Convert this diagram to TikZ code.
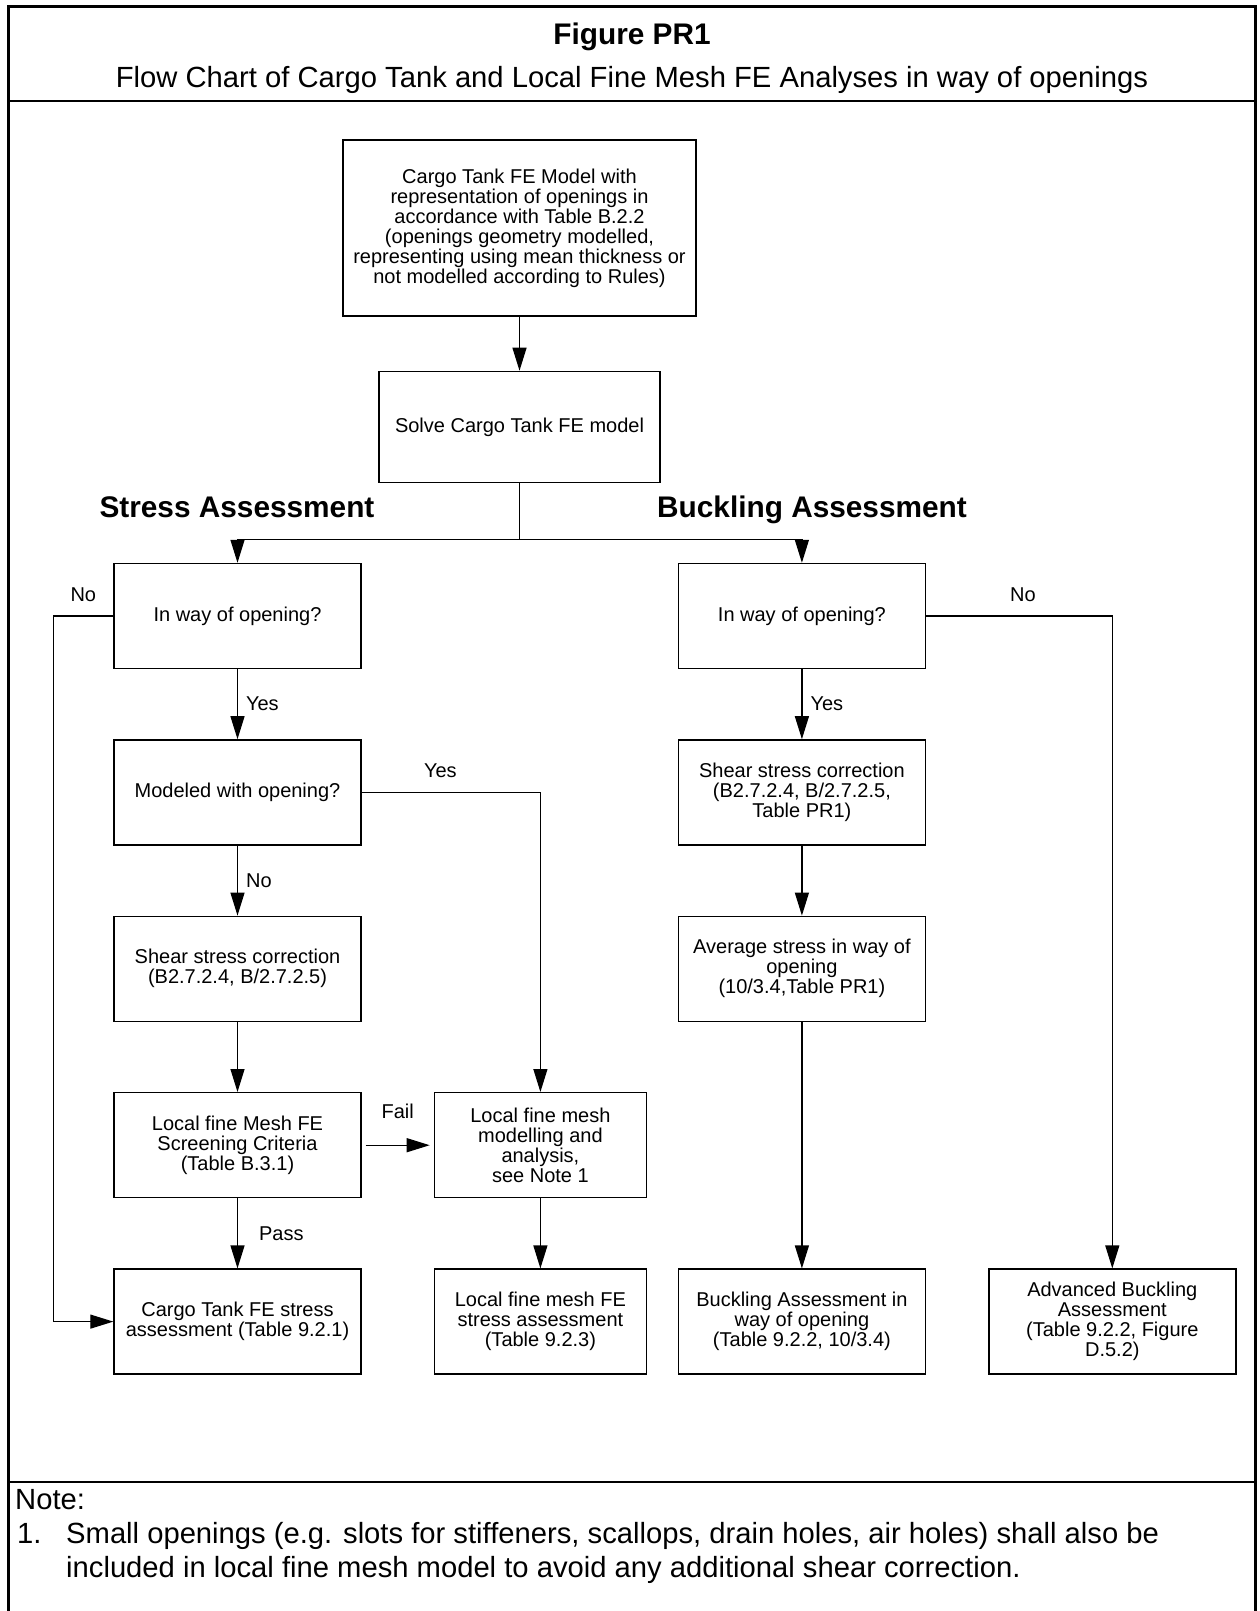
\documentclass[tikz,border=0pt]{standalone}
\usepackage{fontspec}
\setmainfont{Liberation Sans}[Ligatures=NoCommon]
\usetikzlibrary{arrows.meta}
\usetikzlibrary{positioning}

\begin{document}
\begin{tikzpicture}[x=1pt,y=-1pt,node distance=70pt,
          >={Triangle[length=23pt,width=14pt]},
          box/.style={draw,line width=1.4pt,align=center,inner sep=3pt,
            minimum width=247pt,minimum height=105pt,font=\fontsize{20}{20}\selectfont},
          lbl/.style={inner sep=2pt,font=\fontsize{20}{20}\selectfont},
          head/.style={font=\fontsize{29.8}{34}\selectfont\bfseries},
          big/.style={font=\fontsize{29.2}{34}\selectfont},
          link/.style={line width=1.2pt}]
          \useasboundingbox (0,0) rectangle (1259,1611);
          \fill[white] (0,0) rectangle (1259,1611);
          % frame
          \draw[line width=3pt] (8,1611) |- (1255,7) -- (1255,1611);
          \draw[line width=1.5pt] (8,101) -- (1255,101);
          \draw[line width=1.5pt] (8,1482) -- (1255,1482);
          \node[head] (fig) at (632,37) {Figure PR1};
          \node[big] (sub) at (632,80) {Flow Chart of Cargo Tank and Local Fine Mesh FE Analyses in way of openings};
          % top of chart
          \node[box,minimum width=353pt,minimum height=176pt] (ctmodel) at (519.5,228)
            {Cargo Tank FE Model with\\representation of openings in\\accordance with Table B.2.2\\(openings geometry modelled,\\representing using mean thickness or\\not modelled according to Rules)};
          \node[box,minimum width=281pt,minimum height=111pt,below=54pt of ctmodel] (solve) {Solve Cargo Tank FE model};
          \coordinate[below=56pt of solve] (split);
          \node[head,anchor=base] (hstress) at (237,517) {Stress Assessment};
          \node[head,anchor=base] (hbuck) at (812,517) {Buckling Assessment};
          % stress side
          \node[box] (wayS) at (237.5,616) {In way of opening?};
          \node[box,below=of wayS] (modS) {Modeled with opening?};
          \node[box,below=of modS] (shearS) {Shear stress correction\\(B2.7.2.4, B/2.7.2.5)};
          \node[box,below=of shearS] (screenS) {Local fine Mesh FE\\Screening Criteria\\(Table B.3.1)};
          \node[box,below=of screenS] (ctstress) {Cargo Tank FE stress\\assessment (Table 9.2.1)};
          \node[box,minimum width=212pt,right=72pt of screenS] (lfmodel) {Local fine mesh\\modelling and\\analysis,\\see Note 1};
          \node[box,minimum width=212pt,below=of lfmodel] (lfstress) {Local fine mesh FE\\stress assessment\\(Table 9.2.3)};
          % buckling side
          \node[box,right=316pt of wayS] (wayB) {In way of opening?};
          \node[box,below=of wayB] (shearB) {Shear stress correction\\(B2.7.2.4, B/2.7.2.5,\\Table PR1)};
          \node[box,below=of shearB] (avgB) {Average stress in way of\\opening\\(10/3.4,Table PR1)};
          \node[box,right=316pt of ctstress] (buckB) {Buckling Assessment in\\way of opening\\(Table 9.2.2, 10/3.4)};
          \node[box,right=62pt of buckB] (advB) {Advanced Buckling\\Assessment\\(Table 9.2.2, Figure\\D.5.2)};
          % connectors
          \draw[link,->] (ctmodel) -- (solve);
          \draw[link] (solve) -- (split);
          \draw[link,->] (split) -| (wayS.north);
          \draw[link,->] (split) -| (wayB.north);
          \draw[link,->] (wayS.west) -- ++(-60,0) node[lbl,midway,above=12pt] (noS) {No} |- (ctstress.west);
          \draw[link,->] (wayS) -- node[lbl,right=6pt] (yesS) {Yes} (modS);
          \draw[link,->] (modS.east) -| node[lbl,pos=0.22,above=12pt] (yesM) {Yes} (lfmodel.north);
          \draw[link,->] (modS) -- node[lbl,right=6pt] (noM) {No} (shearS);
          \draw[link,->] (shearS) -- (screenS);
          \draw[link,->,shorten <=4pt,shorten >=4pt] (screenS) -- node[lbl,above=24pt] (fail) {Fail} (lfmodel);
          \draw[link,->] (screenS) -- node[lbl,right=19pt] (pass) {Pass} (ctstress);
          \draw[link,->] (lfmodel) -- (lfstress);
          \draw[link,->] (wayB) -- node[lbl,right=6pt] (yesB) {Yes} (shearB);
          \draw[link,->] (wayB.east) -| node[lbl,pos=0.26,above=12pt] (noB) {No} (advB.north);
          \draw[link,->] (shearB) -- (avgB);
          \draw[link,->] (avgB) -- (buckB);
          % note
          \node[big,anchor=base west,inner sep=0pt] (notehd) at (15,1509) {Note:};
          \node[big,anchor=base west,inner sep=0pt] (notenum) at (17,1543) {1.};
          \node[big,anchor=base west,inner sep=0pt] (noteA) at (66,1543) {Small openings (e.g. slots for stiffeners, scallops, drain holes, air holes) shall also be};
          \node[big,anchor=base west,inner sep=0pt] (noteB) at (66,1577) {included in local fine mesh model to avoid any additional shear correction.};
        \end{tikzpicture}
\end{document}
